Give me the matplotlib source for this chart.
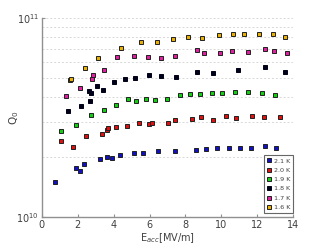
import matplotlib.pyplot as plt
from matplotlib.ticker import LogLocator, NullFormatter, FixedLocator

# E_acc [MV/m] and Q0 per bath temperature
x_21 = [0.74, 1.90, 2.14, 2.34, 3.23, 3.63, 3.89, 4.33, 5.11, 5.63, 6.49, 7.43, 8.57,
        9.16, 9.74, 10.45, 11.04, 11.67, 12.45, 13.07]
q_21 = [1.50e10, 1.77e10, 1.70e10, 1.85e10, 1.95e10, 2.00e10, 1.98e10, 2.05e10, 2.09e10,
        2.09e10, 2.15e10, 2.15e10, 2.18e10, 2.20e10, 2.22e10, 2.22e10, 2.22e10, 2.22e10,
        2.27e10, 2.22e10]

x_20 = [1.06, 1.71, 2.45, 3.36, 3.63, 3.68, 4.14, 4.72, 5.43, 5.98, 6.14, 7.04, 7.43,
        8.35, 8.87, 9.52, 10.28, 10.84, 11.71, 12.40, 13.26]
q_20 = [2.40e10, 2.24e10, 2.55e10, 2.61e10, 2.74e10, 2.81e10, 2.83e10, 2.86e10, 2.96e10,
        2.93e10, 2.96e10, 2.98e10, 3.06e10, 3.11e10, 3.17e10, 3.08e10, 3.23e10, 3.16e10,
        3.22e10, 3.17e10, 3.19e10]

x_19 = [1.06, 1.91, 2.73, 3.44, 4.13, 4.81, 5.26, 5.80, 6.30, 6.95, 7.70, 8.25, 8.83,
        9.46, 10.04, 10.78, 11.51, 12.27, 12.98]
q_19 = [2.71e10, 2.89e10, 3.26e10, 3.46e10, 3.66e10, 3.92e10, 3.84e10, 3.92e10, 3.88e10,
        3.92e10, 4.09e10, 4.15e10, 4.14e10, 4.20e10, 4.22e10, 4.24e10, 4.24e10, 4.20e10,
        4.12e10]

x_18 = [1.45, 2.16, 2.68, 2.64, 2.72, 3.08, 3.42, 4.00, 4.61, 5.20, 5.98, 6.65, 7.47,
        8.63, 9.52, 10.91, 12.44, 13.57]
q_18 = [3.41e10, 3.62e10, 3.84e10, 4.31e10, 4.22e10, 4.54e10, 4.36e10, 4.77e10, 4.95e10,
        4.99e10, 5.19e10, 5.09e10, 5.05e10, 5.37e10, 5.29e10, 5.46e10, 5.67e10, 5.35e10]

x_17 = [1.32, 2.10, 2.79, 2.83, 3.44, 4.20, 5.11, 5.93, 6.64, 7.40, 8.63, 9.02, 9.93,
        10.60, 11.47, 12.42, 12.94, 13.65]
q_17 = [4.07e10, 4.44e10, 4.93e10, 5.15e10, 5.49e10, 6.40e10, 6.44e10, 6.40e10, 6.32e10,
        6.47e10, 6.93e10, 6.70e10, 6.67e10, 6.85e10, 6.75e10, 7.01e10, 6.81e10, 6.70e10]

x_16 = [1.56, 1.63, 2.38, 3.12, 4.42, 5.54, 6.41, 7.29, 8.16, 8.92, 9.87, 10.64, 11.27,
        12.09, 12.88, 13.55]
q_16 = [4.87e10, 4.92e10, 5.61e10, 6.31e10, 7.07e10, 7.60e10, 7.55e10, 7.84e10, 8.00e10,
        7.96e10, 8.24e10, 8.34e10, 8.34e10, 8.32e10, 8.32e10, 8.00e10]

series = [
    ('2.1 K', x_21, q_21, '#1010c8'),
    ('2.0 K', x_20, q_20, '#e01010'),
    ('1.9 K', x_19, q_19, '#10d010'),
    ('1.8 K', x_18, q_18, '#000018'),
    ('1.7 K', x_17, q_17, '#e020a0'),
    ('1.6 K', x_16, q_16, '#e8b000'),
]


def main():
    fig = plt.figure(figsize=(3.25, 2.44), dpi=100)
    ax = fig.add_axes([0.129, 0.111, 0.773, 0.815])

    for label, xs, qs, col in series:
        ec = col if label == '1.8 K' else '#202020'
        ax.plot(xs, qs, 's', ms=3.3, mfc=col, mec=ec, mew=0.7, label=label)

    ax.set_yscale('log')
    ax.set_xlim(0, 14)
    ax.set_ylim(1e10, 1e11)
    ax.set_xticks(range(0, 15, 2))
    ax.yaxis.set_major_locator(FixedLocator([1e10, 1e11]))
    ax.yaxis.set_minor_locator(LogLocator(base=10, subs=range(2, 10)))
    ax.yaxis.set_minor_formatter(NullFormatter())
    ax.grid(True, which='both', axis='y', color='#d8d8d8', ls=(0, (2, 2)), lw=0.7)
    ax.set_axisbelow(True)

    for s in ['top', 'right']:
        ax.spines[s].set_visible(False)
    for s in ['left', 'bottom']:
        ax.spines[s].set_color('#909090')
        ax.spines[s].set_linewidth(1.0)

    ax.tick_params(which='both', direction='in', length=2, color='#909090',
                   labelsize=7, labelcolor='#404040', pad=2)
    ax.tick_params(axis='y', which='minor', length=0)

    ax.set_xlabel('E$_{acc}$[MV/m]', fontsize=7, color='#404040', labelpad=1)
    ax.set_ylabel('Q$_0$', fontsize=7.5, color='#404040')
    ax.yaxis.set_label_coords(-0.085, 0.5)

    leg = ax.legend(loc='lower right', bbox_to_anchor=(1.0, 0.02), fontsize=4.6,
                    handlelength=0.6, handletextpad=0.5, borderpad=0.45,
                    labelspacing=0.6, frameon=True, fancybox=False,
                    borderaxespad=0.0, markerscale=0.75)
    leg.get_frame().set_edgecolor('#404040')
    leg.get_frame().set_linewidth(0.8)
    for t in leg.get_texts():
        t.set_color('#404040')

    plt.savefig('out.png', dpi=100)


if __name__ == '__main__':
    main()
